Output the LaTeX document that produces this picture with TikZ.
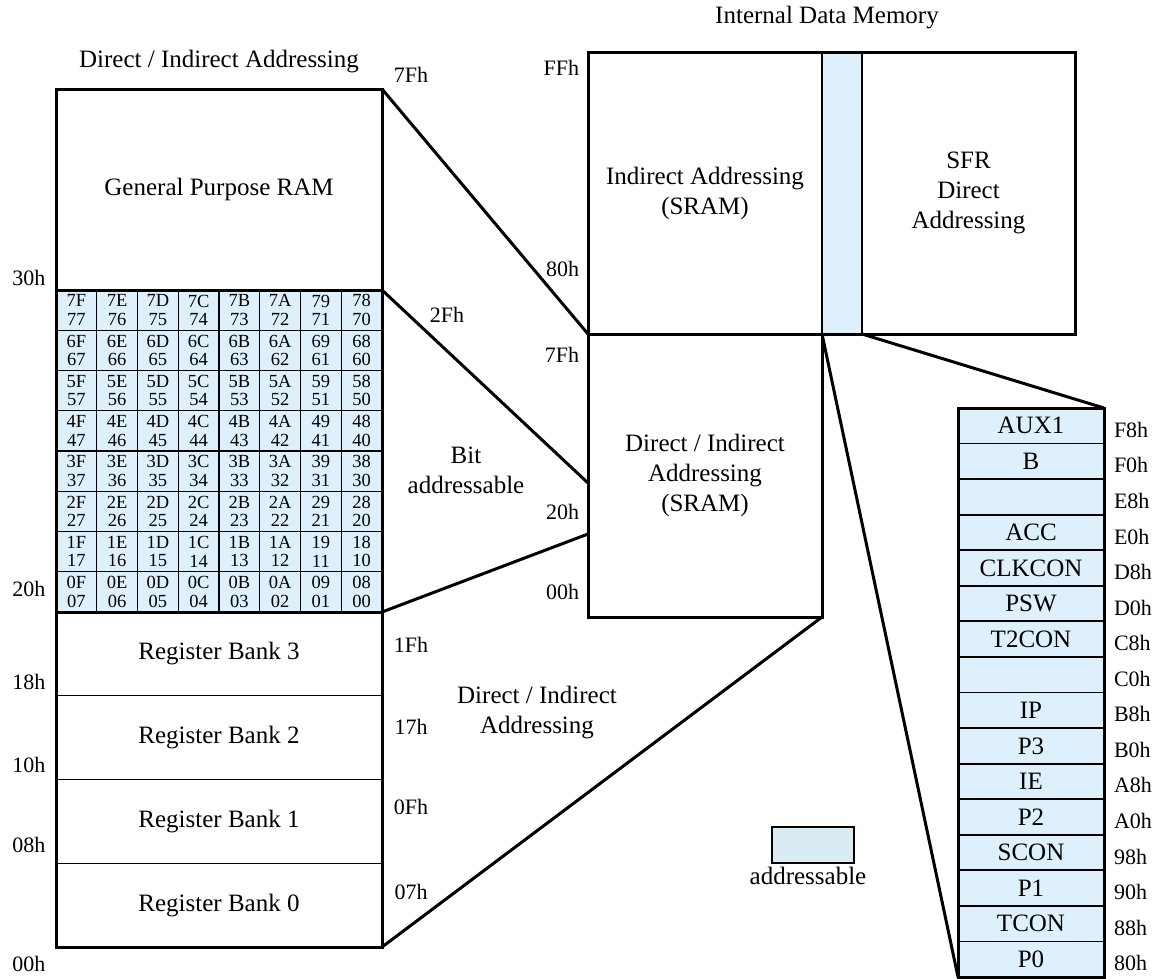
\documentclass[tikz,border=0pt]{standalone}
\usepackage{fontspec}
\setmainfont{Liberation Serif}
\definecolor{azulbit}{RGB}{221,240,252}
\definecolor{azulleg}{RGB}{218,236,242}

\begin{document}
\begin{tikzpicture}[
  x=1pt, y=-1pt,
  every node/.style={inner sep=0pt, outer sep=0pt, font=\fontsize{25}{30}\selectfont},
  moldura/.style={draw, line width=3pt},
  fina/.style={draw, line width=1.3pt},
  diag/.style={line width=3pt},
  rotulo/.style={font=\fontsize{22}{24}\selectfont}
]
\tikzset{
  celula/.style={fill=azulbit, fina, minimum width=40.75pt, minimum height=40.25pt,
    align=center, font=\fontsize{18.5}{18.5}\selectfont},
  sfrreg/.style={fill=azulbit, draw, line width=1.8pt, minimum width=146pt, minimum height=35.5625pt},
  banco/.style={fina, minimum width=326pt, minimum height=83.75pt}
}
\useasboundingbox (0,0) rectangle (1159,978);

% lado esquerdo
\node (tit1) at (219,62) {Direct / Indirect Addressing};
\node[moldura, minimum width=326pt, minimum height=201pt] (gpram) at (219,189.5) {General Purpose RAM};
\foreach \hi [count=\r from 0] in {7,...,0}
  \foreach \lo/\lb [count=\c from 0] in {F/7,E/6,D/5,C/4,B/3,A/2,9/1,8/0}
    \node[celula] (c\r\c) at ({56+40.75*(\c+0.5)},{290+40.25*(\r+0.5)}) {\hi\lo\\\hi\lb};
\node[moldura, minimum width=326pt, minimum height=322pt] (bitgrid) at (219,451) {};
\foreach \b in {3,2,1,0}
  \node[banco] (bank\b) at (219,{612+83.75*(3.5-\b)}) {Register Bank \b};
\draw[moldura] (bank3.north west) rectangle (bank0.south east);

% enderecos a esquerda e a direita
\node[rotulo] (l30) at (29,278) {30h};
\node[rotulo] (l20) at (29,589) {20h};
\node[rotulo] (l18) at (29,682) {18h};
\node[rotulo] (l10) at (29,765) {10h};
\node[rotulo] (l08) at (29,845) {08h};
\node[rotulo] (l00) at (29,964) {00h};
\node[rotulo] (r7f) at (411,75) {7Fh};
\node[rotulo] (r2f) at (447,315) {2Fh};
\node[rotulo] (r1f) at (411,645) {1Fh};
\node[rotulo] (r17) at (411,727) {17h};
\node[rotulo] (r0f) at (411,807) {0Fh};
\node[rotulo] (r07) at (411,892) {07h};

% memoria interna
\node (tit2) at (827,18) {Internal Data Memory};
\node[minimum width=234pt, minimum height=282pt, align=center] (indsram) at (705,193) {Indirect Addressing\\(SRAM)};
\node[fill=azulbit, draw, line width=1.8pt, minimum width=40pt, minimum height=282pt] (faixa) at (842,193) {};
\node[minimum width=213pt, minimum height=282pt, align=center] (sfrdir) at (968.5,193) {SFR\\Direct\\Addressing};
\draw[moldura] (indsram.north west) rectangle (sfrdir.south east);
\node[moldura, minimum width=234pt, minimum height=283pt, align=center] (dirsram) at (705,475.5) {Direct / Indirect\\Addressing\\(SRAM)};
\node[rotulo, anchor=east] (mff) at (579,68) {FFh};
\node[rotulo, anchor=east] (m80) at (579,269) {80h};
\node[rotulo, anchor=east] (m7f) at (579,355) {7Fh};
\node[rotulo, anchor=east] (m20) at (579,512) {20h};
\node[rotulo, anchor=east] (m00) at (579,592) {00h};

\node[align=center] (bitad) at (466,470) {Bit\\addressable};
\node[align=center] (dirind) at (537,713) {Direct / Indirect\\Addressing};

% registradores SFR
\foreach \nome/\ender [count=\i from 0] in {AUX1/F8h,B/F0h,{}/E8h,ACC/E0h,CLKCON/D8h,PSW/D0h,T2CON/C8h,{}/C0h,
    IP/B8h,P3/B0h,IE/A8h,P2/A0h,SCON/98h,P1/90h,TCON/88h,P0/80h} {
  \node[sfrreg] (sfr\i) at (1031,{408+35.5625*(\i+0.5)}) {\nome};
  \node[rotulo, anchor=west] (end\i) at (1114,{408+35.5625*(\i+0.5)+4}) {\ender};
}
\draw[moldura] (sfr0.north west) rectangle (sfr15.south east);

% legenda
\node[fill=azulleg, draw, line width=2.5pt, minimum width=82pt, minimum height=36pt] (legenda) at (813,845) {};
\node (legtxt) at (808,876) {addressable};

% ligacoes
\coordinate (p2f) at (588,483);
\coordinate (p20) at (588,534);
\draw[diag] (gpram.north east) -- (indsram.south west);
\draw[diag] (bitgrid.north east) -- (p2f);
\draw[diag] (bitgrid.south east) -- (p20);
\draw[diag] (bank0.south east) -- (dirsram.south east);
\draw[diag] (faixa.south west) -- (sfr15.south west);
\draw[diag] (faixa.south east) -- (sfr0.north east);
\end{tikzpicture}
\end{document}
